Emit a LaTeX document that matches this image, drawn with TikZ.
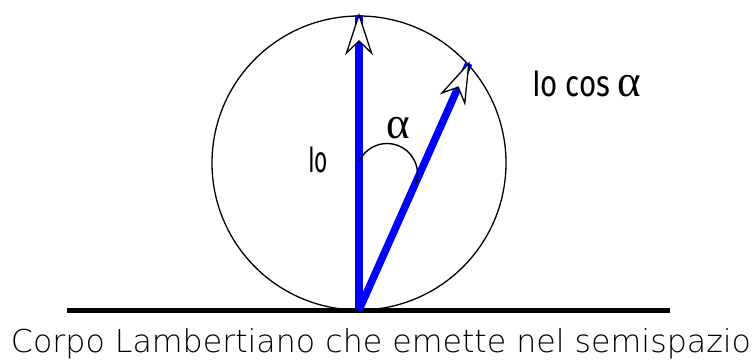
\documentclass[tikz,border=0pt]{standalone}
\usepackage{fontspec}
\setmainfont{Fira Sans}
\newfontfamily\capfont{DejaVuSans-ExtraLight.ttf}
\newfontfamily\greekfont{Liberation Serif}
\usetikzlibrary{calc}
\tikzset{
  openhead/.pic={\draw[fill=white,line width=1.3pt,line join=miter] (0,0) -- (-38,12.5) -- (-26,0) -- (-38,-12.5) -- cycle;},
  vec/.style={draw=blue,line width=7.5pt},
  lbl/.style={inner sep=0pt,anchor=base,font=\fontsize{37}{40}\selectfont},
}
\begin{document}
\begin{tikzpicture}[x=1pt,y=1pt]
\useasboundingbox (0,0) rectangle (753,360);
% circle
\node[circle,draw,line width=1.3pt,minimum size=294pt,inner sep=0pt] (circ) at (359,197) {};
% ground line
\coordinate (L) at (67,49.5);
\coordinate (R) at (670,49.5);
\draw[line width=4.4pt] (L) -- (R);
% vectors
\coordinate (O) at (359,50);
\coordinate (T1) at (359,345);
\coordinate (T2) at ($(O)+(66:270)$);
\draw[vec] (O) -- (T1);
\draw[vec] (O) -- (T2);
\pic[rotate=90] at (T1) {openhead};
\pic[rotate=66] at (T2) {openhead};
% angle arc
\coordinate (A1) at (359,198);
\draw[line width=1.4pt] (A1) arc[start angle=156.8,end angle=-23.2,radius=30.5];
% labels
\node[lbl] (io) at (318,188) {\resizebox{20pt}{\height}{Io}};
\node[lbl,font=\fontsize{45}{48}\selectfont\greekfont] (al) at (398,222) {α};
\node[lbl] (iocos) at (586.5,264) {\resizebox{78pt}{\height}{Io cos}\hspace{7pt}{\fontsize{45}{48}\selectfont\greekfont α}};
\node[inner sep=0pt,anchor=base] (cap) at (381,8) {\resizebox{740pt}{\height}{\fontsize{31.5}{36}\selectfont\capfont Corpo Lambertiano che emette nel semispazio}};
\end{tikzpicture}
\end{document}
